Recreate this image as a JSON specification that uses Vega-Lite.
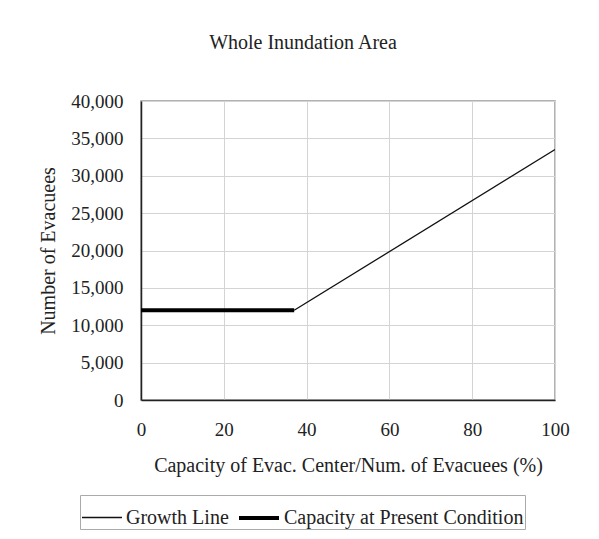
{
  "$schema": "https://vega.github.io/schema/vega-lite/v6.json",
  "autosize": "none",
  "width": 414,
  "height": 299,
  "padding": {"left": 141, "top": 101, "right": 44, "bottom": 139},
  "background": "white",
  "title": {"text": "Whole Inundation Area", "fontSize": 20, "fontWeight": "normal", "color": "#222", "offset": 39, "dx": -45},
  "config": {
    "font": "Liberation Serif",
    "view": {"stroke": "#999", "strokeWidth": 1.5},
    "axis": {"labelFont": "Liberation Serif", "titleFont": "Liberation Serif", "labelFontSize": 19, "titleFontSize": 20, "labelColor": "#222", "titleColor": "#222", "titleFontWeight": "normal", "gridColor": "#d4d4d4", "gridWidth": 1, "domainColor": "#222", "domainWidth": 1.5, "ticks": false, "labelFlush": false}
  },
  "data": {"values": [
    {"series": "Growth Line", "x": 37, "y": 12000},
    {"series": "Growth Line", "x": 100, "y": 33500},
    {"series": "Capacity at Present Condition", "x": 0, "y": 12000},
    {"series": "Capacity at Present Condition", "x": 37, "y": 12000}
  ]},
  "mark": {"type": "line", "clip": true},
  "encoding": {
    "x": {"field": "x", "type": "quantitative", "scale": {"domain": [0, 100], "nice": false},
      "axis": {"values": [0, 20, 40, 60, 80, 100], "title": "Capacity of Evac. Center/Num. of Evacuees (%)", "labelPadding": 20, "titlePadding": 16}},
    "y": {"field": "y", "type": "quantitative", "scale": {"domain": [0, 40000], "nice": false},
      "axis": {"values": [0, 5000, 10000, 15000, 20000, 25000, 30000, 35000, 40000], "labelExpr": "format(datum.value, ',')", "title": "Number of  Evacuees", "labelPadding": 18, "titlePadding": 12}},
    "color": {"field": "series", "type": "nominal", "scale": {"domain": ["Growth Line", "Capacity at Present Condition"], "range": ["#111", "#000"]},
      "legend": {"orient": "none", "legendX": -61, "legendY": 394, "direction": "horizontal", "title": null, "labelFontSize": 20, "labelFont": "Liberation Serif", "labelColor": "#222", "labelLimit": 0, "symbolType": "stroke", "symbolSize": 1600, "strokeColor": "#aaa", "padding": 1, "columnPadding": 2, "labelOffset": 3, "symbolStrokeColor": "#000"}},
    "strokeWidth": {"field": "series", "type": "nominal", "scale": {"domain": ["Growth Line", "Capacity at Present Condition"], "range": [1.3, 4]}, "legend": null},
    "detail": {"field": "series"}
  }
}
